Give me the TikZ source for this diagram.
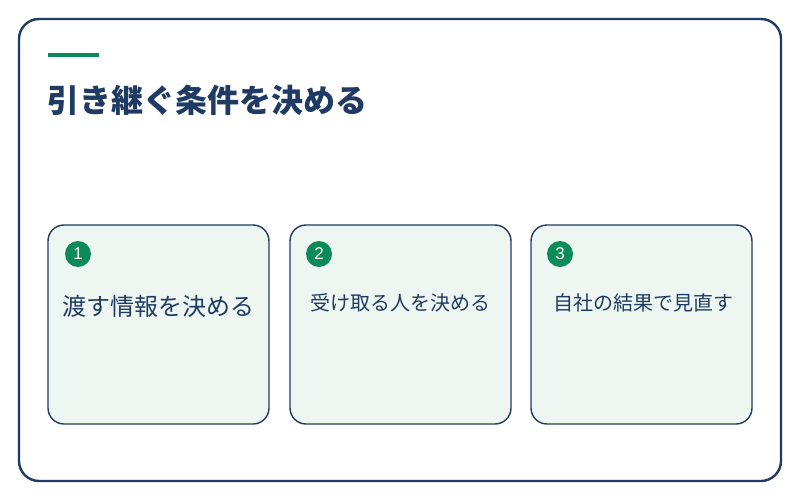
\documentclass[tikz,border=0pt]{standalone}
\usepackage{fontspec}
\setmainfont{Noto Sans CJK JP}
\setsansfont{Liberation Sans}
\definecolor{navy}{HTML}{1F3B63}
\definecolor{accent}{HTML}{0B8A5A}
\definecolor{cardfill}{HTML}{EEF6F1}
\tikzset{
  frame/.style={draw=navy,line width=2.4pt,rounded corners=20pt,fill=white},
  card/.style={draw=navy,line width=1.4pt,rounded corners=16pt,fill=cardfill,minimum width=221pt,minimum height=199pt,inner sep=0pt},
  badge/.style={circle,fill=accent,minimum size=26pt,inner sep=0pt,text=white,font=\sffamily\fontsize{17}{17}\selectfont},
  cardtext/.style={text=navy,inner sep=0pt,anchor=center},
  titletext/.style={text=navy,inner sep=0pt,anchor=west,font=\fontsize{32}{32}\selectfont\bfseries}
}
\begin{document}
\begin{tikzpicture}[x=1pt,y=-1pt]
\useasboundingbox (0,0) rectangle (800,500);
\draw[frame] (19,19) rectangle (781,481);
\fill[accent] (48,53) rectangle (99,57.5);
\node[titletext] (title) at (47,100) {引き継ぐ条件を決める};
\node[card] (c1) at (158.5,324.5) {};
\node[card] (c2) at (400.5,324.5) {};
\node[card] (c3) at (641.5,324.5) {};
\node[badge] (b1) at (78,254) {1};
\node[badge] (b2) at (319,254) {2};
\node[badge] (b3) at (560,254) {3};
\node[cardtext,font=\fontsize{24}{24}\selectfont] (t1) at (158.5,306) {渡す情報を決める};
\node[cardtext,font=\fontsize{20}{20}\selectfont] (t2) at (400.5,303) {受け取る人を決める};
\node[cardtext,font=\fontsize{20}{20}\selectfont] (t3) at (643,303) {自社の結果で見直す};
\end{tikzpicture}
\end{document}
